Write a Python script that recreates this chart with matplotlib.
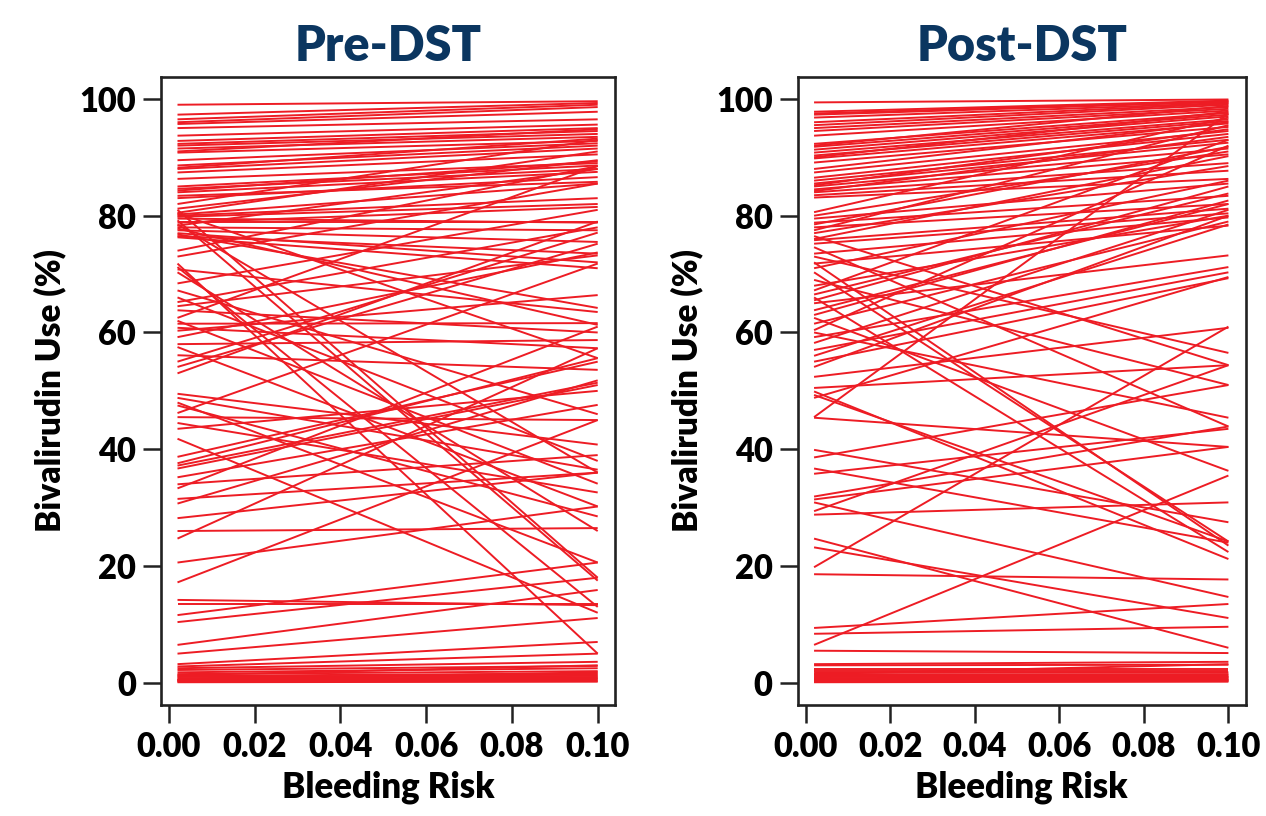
import matplotlib
matplotlib.use("Agg")
import matplotlib.pyplot as plt
from matplotlib.ticker import FormatStrFormatter

# ---------------- data ----------------
risk_range = [0.002, 0.10]   # bleeding risk at the start / end of every hospital curve

pre_start = [
    99.0, 97.3, 96.5, 96.0, 95.7, 95.0, 93.7, 92.8, 92.3, 92.0, 91.5, 90.8, 89.5, 88.6, 88.0,
    87.4, 86.3, 85.0, 84.6, 84.0, 83.4, 83.0, 91.0, 88.2, 84.3,
    82.0, 81.2, 80.5, 80.2, 80.0, 79.8, 79.5, 79.0, 78.8, 78.3, 78.0, 77.5, 77.0, 76.5, 76.3,
    81.0, 79.2, 80.4, 78.5, 77.8, 76.8,
    74.0, 73.0, 71.8, 71.2, 70.3, 70.8, 68.4, 67.2, 66.0, 65.2, 64.5, 63.8, 62.5, 62.0, 61.5,
    60.8, 60.3,
    59.2, 58.0, 57.5, 56.1, 55.0, 54.1, 53.0, 49.5, 48.8, 48.0, 47.5, 46.2, 45.5,
    44.5, 43.5, 41.8, 38.7, 37.6, 37.2, 36.7, 35.2, 34.0, 33.3, 31.5, 30.7,
    28.2, 26.0, 24.7, 20.6, 17.2, 14.2, 13.5, 11.6, 10.4, 6.5, 5.0, 3.2, 2.8, 2.5, 2.2,
    1.8, 1.5, 1.2, 1.0, 0.8, 0.6, 0.5, 0.4, 0.3, 0.2, 0.1, 0.5, 1.3,
]
pre_end = [
    99.6, 99.3, 99.0, 98.6, 97.8, 96.5, 95.6, 95.0, 94.5, 94.0, 93.5, 92.8, 92.4, 92.0, 91.5,
    90.5, 89.0, 88.6, 88.0, 87.5, 85.8, 86.6, 94.8, 93.2, 89.3,
    93.0, 89.5, 91.0, 85.5, 83.0, 82.0, 78.8, 79.0, 81.5, 88.0, 77.5, 75.5, 72.0, 73.5, 71.0,
    18.0, 17.5, 55.6, 36.0, 61.3, 64.2,
    88.5, 85.5, 5.0, 13.0, 26.0, 63.5, 81.0, 46.0, 38.0, 78.0, 73.2, 60.0, 88.5, 34.1, 61.6,
    57.3, 66.4,
    73.7, 58.7, 30.2, 53.6, 77.1, 75.2, 79.0, 40.8, 36.5, 20.6, 28.5, 71.8, 45.0,
    32.6, 50.0, 12.0, 55.0, 55.6, 51.4, 51.0, 47.6, 39.0, 61.0, 36.0, 51.8,
    36.0, 26.5, 57.3, 30.2, 45.0, 13.3, 13.5, 20.6, 18.0, 15.9, 11.1, 7.0, 5.0, 3.6, 2.9,
    2.5, 2.0, 1.6, 1.4, 1.2, 1.0, 0.8, 0.7, 0.5, 0.3, 0.2, 1.8, 3.0,
]

post_start = [
    99.4, 97.8, 97.5, 97.3, 96.8, 96.0, 95.5, 95.0, 94.5, 93.7, 92.3, 91.8, 91.3, 90.8, 90.3,
    89.8, 89.1, 87.4, 86.5, 86.0, 85.5, 85.0, 84.5, 84.0, 83.5, 83.1,
    92.0, 90.0, 88.0, 85.2, 84.2, 78.5, 76.0, 66.5, 63.0,
    80.6, 80.0, 79.5, 78.8, 78.0, 77.5, 77.0, 75.8, 75.2, 74.6, 73.5, 72.0, 71.8, 70.3, 71.0,
    69.0, 68.0, 67.2, 66.0, 65.5, 65.0, 63.8, 62.5, 61.5, 60.4, 59.2, 58.2, 57.0, 56.0, 55.0,
    54.1, 73.0, 76.5, 60.0,
    52.4, 50.5, 49.9, 49.3, 48.8, 45.5, 45.4,
    39.9, 38.6, 36.7, 35.8, 31.9, 31.4, 30.9, 29.4, 28.8, 24.7, 23.2, 19.8, 18.6,
    9.4, 8.4, 6.5, 5.5, 3.2, 3.0, 2.4, 2.0, 1.7, 1.4, 1.2, 1.0, 0.8, 0.6, 0.5, 0.4, 0.3, 0.2,
    0.1, 1.5, 0.7,
]
post_end = [
    99.9, 99.7, 99.6, 99.5, 99.3, 99.2, 99.0, 98.6, 98.3, 98.0, 97.6, 97.3, 97.0, 96.5, 96.2,
    95.8, 95.2, 94.5, 94.0, 93.0, 92.5, 91.5, 90.5, 89.0, 87.7, 86.3,
    98.8, 97.8, 96.0, 94.8, 93.5, 91.8, 90.2, 83.8, 82.6,
    96.8, 91.0, 85.5, 83.4, 82.0, 95.5, 88.5, 81.2, 80.4, 43.9, 79.7, 23.5, 78.3, 24.2, 86.0,
    51.0, 80.0, 93.0, 22.4, 85.0, 73.2, 82.0, 36.3, 79.0, 92.0, 71.2, 81.0, 70.3, 78.5, 69.3,
    80.0, 56.5, 54.4, 45.4,
    60.8, 54.4, 21.2, 24.2, 69.5, 97.5, 40.4,
    27.5, 51.0, 24.0, 43.5, 43.9, 40.4, 14.7, 54.4, 30.9, 6.0, 11.1, 61.0, 17.7,
    13.5, 9.6, 35.5, 5.1, 3.6, 3.1, 2.4, 2.0, 1.8, 1.5, 1.3, 1.1, 0.9, 0.7, 0.6, 0.5, 0.4, 0.3,
    0.2, 3.2, 1.0,
]

panels = [("Pre-DST", pre_start, pre_end), ("Post-DST", post_start, post_end)]
x_ticks = [0.00, 0.02, 0.04, 0.06, 0.08, 0.10]
y_ticks = [0, 20, 40, 60, 80, 100]

# ---------------- styling ----------------
plt.rcParams['font.family'] = ['Lato', 'DejaVu Sans']
plt.rcParams['font.weight'] = 'heavy'
LINE_RED = '#ED1C24'
TITLE_BLUE = '#0B3660'
FRAME = '#222222'
W = 'heavy'

fig = plt.figure(figsize=(12.66, 8.16), dpi=100)
positions = [[0.127, 0.136, 0.359, 0.770], [0.630, 0.136, 0.354, 0.770]]

for (title, starts, ends), pos in zip(panels, positions):
    ax = fig.add_axes(pos)
    for s, e in zip(starts, ends):
        ax.plot(risk_range, [s, e], color=LINE_RED, lw=1.4, solid_capstyle='butt')
    ax.set_xlim(-0.0019, 0.1041)
    ax.set_ylim(-3.8, 103.8)
    ax.set_xticks(x_ticks)
    ax.set_yticks(y_ticks)
    ax.xaxis.set_major_formatter(FormatStrFormatter('%.2f'))
    ax.tick_params(direction='out', length=13, width=1.8, color=FRAME,
                   labelsize=23.5, pad=5)
    ax.tick_params(axis='x', pad=6)
    for lab in ax.get_xticklabels() + ax.get_yticklabels():
        lab.set_fontweight(W)
    for sp in ax.spines.values():
        sp.set_linewidth(1.9)
        sp.set_color(FRAME)
    ax.set_title(title, fontsize=35, fontweight=W, color=TITLE_BLUE, pad=11)
    ax.set_xlabel('Bleeding Risk', fontsize=25, fontweight=W, labelpad=5)
    ax.set_ylabel('Bivalirudin Use (%)', fontsize=24, fontweight=W, labelpad=9)

fig.savefig('out.png', dpi=100)
